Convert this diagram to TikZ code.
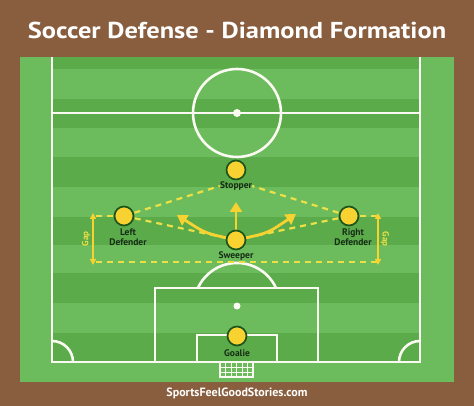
\documentclass[tikz,border=0pt]{standalone}
\usepackage{fontspec}
\setmainfont{PT Sans}
\usetikzlibrary{arrows.meta}
\definecolor{brownbg}{RGB}{137,94,62}
\definecolor{grlight}{RGB}{108,187,92}
\definecolor{grdark}{RGB}{91,171,74}
\definecolor{pline}{RGB}{250,250,242}
\definecolor{pyellow}{RGB}{247,210,48}
\definecolor{dyellow}{RGB}{236,224,70}
\definecolor{pout}{RGB}{28,84,28}
\definecolor{lbltext}{RGB}{22,44,22}
\tikzset{
  fieldline/.style={draw=pline, line width=2.6pt},
  player/.style={circle, fill=pyellow, draw=pout, line width=1.7pt, minimum size=19pt, inner sep=0pt},
  lbl/.style={text=lbltext, font=\fontsize{9.5}{10}\selectfont\bfseries, align=center, inner sep=0pt},
  dashline/.style={draw=dyellow, line width=2.2pt, dash pattern=on 6pt off 5pt},
  movearrow/.style={draw=pyellow, line width=2.8pt, -{Triangle[length=10pt,width=12pt]}},
  gaparrow/.style={draw=pyellow, line width=1.6pt, {Triangle[length=6pt,width=6pt]}-{Triangle[length=6pt,width=6pt]}},
  gaptext/.style={text=dyellow, font=\fontsize{9}{10}\selectfont\bfseries, inner sep=0pt}
}
\begin{document}
\begin{tikzpicture}[x=1pt,y=-1pt]
\useasboundingbox (0,0) rectangle (474,406);
\fill[brownbg] (0,0) rectangle (474,406);
\fill[grlight] (20,57) rectangle (454,382);
\foreach \a/\b in {57/69,99/128,157/187,217/245,273/303,333/362}
  \fill[grdark] (52,\a) rectangle (420,\b);
% field lines
\draw[fieldline] (52,57) -- (52,362) -- (420,362) -- (420,57);
\draw[fieldline] (52,113) -- (420,113);
\draw[fieldline] (237,113) circle[radius=44];
\fill[pline] (237,113) circle[radius=4];
\draw[fieldline] (155,362) -- (155,288) -- (318,288) -- (318,362);
\draw[fieldline] (197,362) -- (197,335) -- (277,335) -- (277,362);
\draw[fieldline] (197.9,288) arc[start angle=-155.3, end angle=-24.7, radius=43];
\fill[pline] (237,306) circle[radius=3.5];
\draw[fieldline] (73,362) arc[start angle=0, end angle=-90, radius=21];
\draw[fieldline] (399,362) arc[start angle=180, end angle=270, radius=21];
% goal net
\draw[draw=pline, line width=1.8pt] (220,362) -- (220,377) -- (253,377) -- (253,362);
\foreach \x in {225.5,231,236.5,242,247.5}
  \draw[draw=pline, line width=0.9pt] (\x,362) -- (\x,377);
\foreach \y in {367,372}
  \draw[draw=pline, line width=0.9pt] (220,\y) -- (253,\y);
% title and footer
\node[text=white, font=\fontsize{23}{25}\selectfont\bfseries, xscale=1.15] (title) at (237,30) {Soccer Defense - Diamond Formation};
\node[text=white, font=\fontsize{12}{14}\selectfont\bfseries] (footer) at (237,393) {SportsFeelGoodStories.com};
% labels
\node[lbl] (stopperlbl) at (236,186) {Stopper};
\node[lbl] (ldlbl) at (128,237.5) {Left\\Defender};
\node[lbl] (rdlbl) at (353,237.5) {Right\\Defender};
\node[lbl] (sweeperlbl) at (236,256) {Sweeper};
\node[lbl] (goalielbl) at (237,353) {Goalie};
% helper coordinates
\coordinate (gl1) at (96,216);
\coordinate (gl2) at (96,262);
\coordinate (gr1) at (377,216);
\coordinate (gr2) at (377,262);
\coordinate (ga1) at (93,213);
\coordinate (ga2) at (93,265);
\coordinate (gb1) at (378,213);
\coordinate (gb2) at (378,265);
\coordinate (uptip) at (236,202);
\coordinate (lefttip) at (177,215);
\coordinate (righttip) at (296,214);
% player positions
\path (124,216) coordinate (ldc) (349,216) coordinate (rdc) (236,240) coordinate (swc) (236,170) coordinate (stc) (237,336) coordinate (gkc);
% dashed lines
\draw[dashline] (ldc) -- (stopperlbl.west);
\draw[dashline] (rdc) -- (stopperlbl.east);
\draw[dashline] (ldc) -- (swc);
\draw[dashline] (rdc) -- (swc);
\draw[dashline] (ldc) -- (gl1);
\draw[dashline] (rdc) -- (gr1);
\draw[dashline] (gl2) -- (gr2);
% gap arrows
\draw[gaparrow] (ga1) -- (ga2);
\draw[gaparrow] (gb1) -- (gb2);
\node[gaptext, rotate=90] (gapl) at (86,239) {Gap};
\node[gaptext, rotate=-90] (gapr) at (385,239) {Gap};
% movement arrows
\draw[movearrow] (236,230) -- (uptip);
\draw[movearrow] (227,238) .. controls (205,233) .. (lefttip);
\draw[movearrow] (245,238) .. controls (268,233) .. (righttip);
% players
\node[player] (ld) at (ldc) {};
\node[player] (rd) at (rdc) {};
\node[player] (sweeper) at (swc) {};
\node[player] (stopper) at (stc) {};
\node[player] (goalie) at (gkc) {};
\end{tikzpicture}
\end{document}
